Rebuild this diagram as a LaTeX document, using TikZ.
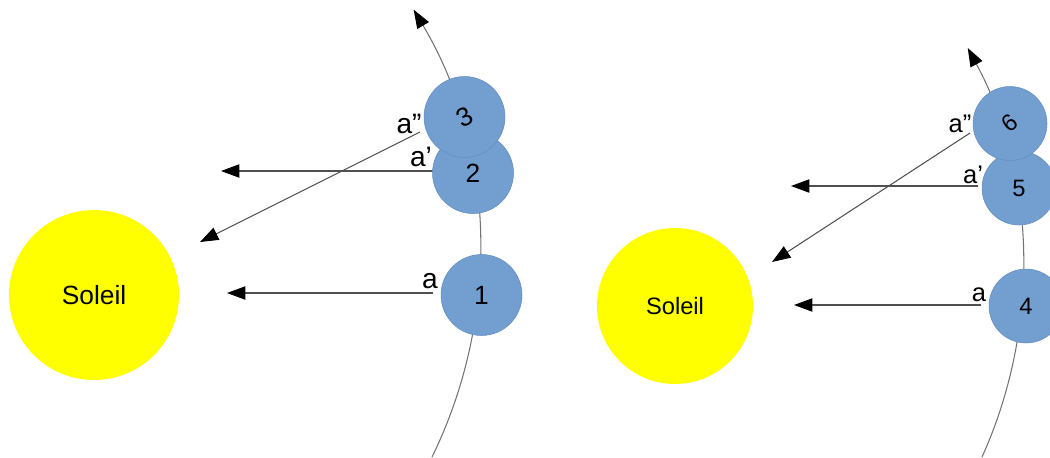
\documentclass[tikz,border=0pt]{standalone}
\usepackage{fontspec}
\setmainfont{Liberation Sans}
\usetikzlibrary{arrows.meta}
\definecolor{planetfill}{RGB}{114,159,207}
\definecolor{planetedge}{RGB}{98,141,192}
\definecolor{sunfill}{RGB}{255,255,0}
\definecolor{raycol}{RGB}{80,80,80}
\definecolor{orbitcol}{RGB}{115,115,115}
\tikzset{
  tip/.tip={Triangle[length=10.5pt,width=7.6pt,color=black,fill=black]},
  sunbody/.style={circle, fill=sunfill, inner sep=0pt, minimum size=#1},
  planetbody/.style={circle, fill=planetfill, draw=planetedge, line width=0.3pt, inner sep=0pt, minimum size=#1},
  ray/.style={draw=raycol, line width=0.6pt, -tip},
  orbitline/.style={draw=orbitcol, line width=0.6pt},
  lbl/.style={inner sep=0pt},
  bigtext/.style={font=\fontsize{15}{18}\selectfont},
  smalltext/.style={font=\fontsize{13.5}{16}\selectfont},
  biglbl/.style={lbl, font=\fontsize{16}{19}\selectfont},
  smalllbl/.style={lbl, font=\fontsize{14.5}{17}\selectfont}
}
\begin{document}
\begin{tikzpicture}[x=0.02cm,y=-0.02cm]
\useasboundingbox (0,0) rectangle (1050,457);

% ---------- left system ----------
\coordinate (orbL) at (432,457);
\draw[orbitline, -tip] (orbL) arc[start angle=-26.1, end angle=30.8, radius=9.4cm];

\coordinate (r1s) at (433,293); \coordinate (r1e) at (227,293);
\coordinate (r2s) at (433,171); \coordinate (r2e) at (221,171);
\coordinate (r3s) at (420,132); \coordinate (r3e) at (200,242);
\draw[ray] (r1s) -- (r1e);
\draw[ray] (r2s) -- (r2e);
\draw[ray] (r3s) -- (r3e);

\node[sunbody=3.4cm, bigtext] (sunL) at (94,295) {Soleil};
\node[planetbody=1.62cm, bigtext] (p1) at (481.5,295) {1};
\node[planetbody=1.62cm, bigtext] (p2) at (473,173) {2};
\node[planetbody=1.62cm, bigtext] (p3) at (464.5,117) {\rotatebox{28}{3}};

\node[biglbl] (la1) at (430,281) {a};
\node[biglbl] (la2) at (421,157) {a’};
\node[biglbl] (la3) at (409,124) {a”};

% ---------- right system ----------
\coordinate (orbR) at (982,457);
\draw[orbitline, -tip] (orbR) arc[start angle=-24.3, end angle=28.3, radius=9.24cm];

\coordinate (r4s) at (981,305); \coordinate (r4e) at (794,305);
\coordinate (r5s) at (978,186); \coordinate (r5e) at (791,186);
\coordinate (r6s) at (970,133); \coordinate (r6e) at (772,262);
\draw[ray] (r4s) -- (r4e);
\draw[ray] (r5s) -- (r5e);
\draw[ray] (r6s) -- (r6e);

\node[sunbody=3.12cm, smalltext] (sunR) at (675,306) {Soleil};
\node[planetbody=1.48cm, smalltext] (p4) at (1026,306) {4};
\node[planetbody=1.48cm, smalltext] (p5) at (1019,188) {5};
\node[planetbody=1.48cm, smalltext] (p6) at (1010,123.5) {\rotatebox{38}{6}};

\node[smalllbl] (lb1) at (979,295) {a};
\node[smalllbl] (lb2) at (973,175) {a’};
\node[smalllbl] (lb3) at (960,124) {a”};
\end{tikzpicture}
\end{document}
